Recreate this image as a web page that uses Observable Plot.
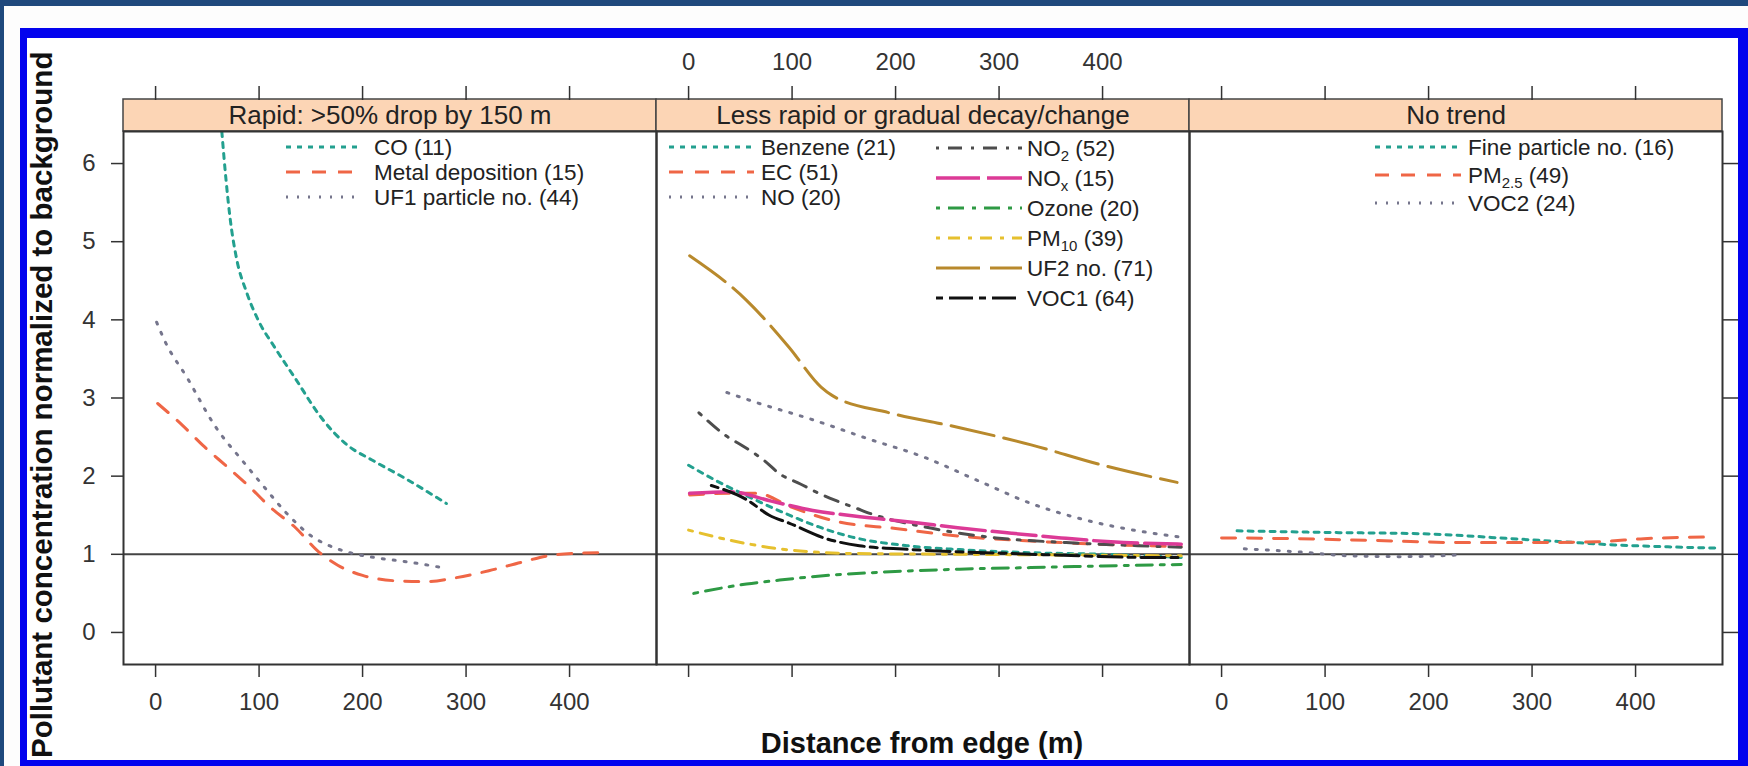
<!DOCTYPE html>
<html><head><meta charset="utf-8">
<script src="https://cdn.jsdelivr.net/npm/d3@7"></script>
<script src="https://cdn.jsdelivr.net/npm/@observablehq/plot@0.6"></script>
<style>
html,body{margin:0;padding:0;background:#1f497d;width:1748px;height:766px;overflow:hidden;}
#white{position:absolute;left:4px;top:6px;width:1744px;height:760px;background:#fdfdfd;}
#box{position:absolute;left:20px;top:28px;width:1728px;height:738px;box-sizing:border-box;border-style:solid;border-color:#0303ee;border-width:10px 10px 6px 7px;overflow:hidden;background:#fff;}
#box svg{position:absolute;left:-27px;top:-38px;max-width:none !important;width:1748px !important;height:766px !important;}
</style></head><body>
<div id="white"></div><div id="box"></div>
<script>
// ---- data ----
const panelNames = ["Rapid: >50% drop by 150 m", "Less rapid or gradual decay/change", "No trend"];
const xTicks = [0, 100, 200, 300, 400];
const yTicks = [0, 1, 2, 3, 4, 5, 6];

// distance (m), normalized concentration
const CO = [[64,6.41],[68,5.8],[72,5.3],[78,4.8],[88,4.35],[99,4.0],[115,3.65],[135,3.25],[160,2.75],[185,2.4],[210,2.2],[240,1.98],[281,1.65]];
const METAL = [[2,2.93],[26,2.65],[46,2.39],[70,2.11],[91,1.86],[111,1.6],[136,1.33],[156,1.05],[176,0.86],[200,0.73],[233,0.66],[261,0.65],[290,0.7],[322,0.79],[354,0.9],[379,0.98],[403,1.01],[435,1.02]];
const UF1 = [[1,3.97],[10,3.7],[30,3.27],[58,2.63],[85,2.18],[105,1.86],[127,1.52],[152,1.22],[168,1.11],[188,1.02],[216,0.95],[245,0.9],[281,0.82]];
const BENZENE = [[0,2.14],[27,1.94],[56,1.75],[94,1.52],[126,1.35],[158,1.22],[211,1.11],[262,1.06],[331,1.02],[400,1.0],[476,0.96]];
const EC = [[1,1.76],[40,1.78],[66,1.78],[100,1.6],[143,1.42],[200,1.33],[264,1.23],[345,1.16],[441,1.11],[476,1.1]];
const NO = [[37,3.07],[66,2.94],[118,2.73],[173,2.48],[228,2.24],[280,1.94],[331,1.65],[380,1.45],[434,1.3],[476,1.22]];
const NO2 = [[10,2.81],[38,2.5],[52,2.39],[73,2.2],[88,2.03],[108,1.9],[126,1.78],[142,1.69],[162,1.59],[176,1.52],[228,1.35],[297,1.21],[365,1.15],[434,1.11],[476,1.09]];
const NOX = [[1,1.78],[40,1.8],[80,1.68],[120,1.56],[160,1.49],[216,1.41],[260,1.34],[312,1.27],[360,1.21],[408,1.16],[476,1.13]];
const OZONE = [[5,0.5],[56,0.62],[88,0.67],[125,0.72],[184,0.77],[262,0.81],[331,0.83],[400,0.85],[476,0.87]];
const PM10 = [[0,1.31],[40,1.18],[88,1.07],[120,1.03],[159,1.01],[262,1.0],[380,0.99],[476,0.98]];
const UF2 = [[1,4.82],[56,4.25],[97,3.65],[128,3.14],[139,3.03],[194,2.81],[262,2.62],[331,2.4],[400,2.14],[472,1.92]];
const VOC1 = [[22,1.88],[56,1.7],[78,1.5],[97,1.4],[133,1.2],[165,1.11],[216,1.06],[312,1.01],[380,0.98],[441,0.96],[476,0.96]];
const FINE = [[15,1.3],[100,1.28],[200,1.26],[280,1.2],[330,1.16],[380,1.12],[420,1.1],[477,1.08]];
const PM25 = [[0,1.21],[70,1.2],[139,1.18],[235,1.15],[299,1.15],[363,1.16],[408,1.2],[466,1.22]];
const VOC2 = [[22,1.07],[75,1.03],[125,0.98],[175,0.97],[226,0.99]];

const seriesData = [CO, METAL, UF1, BENZENE, EC, NO, NO2, NOX, OZONE, PM10, UF2, VOC1, FINE, PM25, VOC2];
const seriesBase = ["CO","Metal deposition","UF1 particle no.","Benzene","EC","NO","NO","NO","Ozone","PM","UF2 no.","VOC1","Fine particle no.","PM","VOC2"];
const seriesSub = ["","","","","","","2","x","","10","","","","2.5",""];
const seriesCount = [11,15,44,21,51,20,52,15,20,39,71,64,16,49,24];
const seriesPanel = [0,0,0,1,1,1,1,1,1,1,1,1,2,2,2];

// ---- styles / layout ----
const FONT = "'Liberation Sans', Arial, Helvetica, sans-serif";
const styles = [
  {stroke: "#23a08f", dash: "5,6", width: 3},
  {stroke: "#ef6646", dash: "14,12", width: 3},
  {stroke: "#75758c", dash: "2,9", width: 3},
  {stroke: "#4d4d4d", dash: "3,9,14,9", width: 3},
  {stroke: "#dc3a96", dash: "44,7", width: 3.5},
  {stroke: "#2e9a44", dash: "4,8,16,8", width: 3},
  {stroke: "#e6c02e", dash: "4,8,12,8", width: 3},
  {stroke: "#b8892c", dash: "44,10", width: 3},
  {stroke: "#111111", dash: "7,6,24,6", width: 3}
];
const seriesStyle = [0,1,2,0,1,2,3,4,5,6,7,8,0,1,2];

const xMin = -31, xMax = 484, yMin = -0.41, yMax = 6.41;
const frameTop = 131, frameBottom = 664;
const stripUnits = 32 / ((frameBottom - frameTop) / (yMax - yMin));

const rows = seriesData.flatMap((pts, i) => pts.map(([d, v]) => ({series: i, panel: panelNames[seriesPanel[i]], d, v})));
const bottomLabels = [0, 2].flatMap(p => xTicks.map(t => ({panel: panelNames[p], t})));
const topLabels = [1].flatMap(p => xTicks.map(t => ({panel: panelNames[p], t})));

const lineMarks = seriesData.map((_, i) => {
  const st = styles[seriesStyle[i]];
  return Plot.line(rows.filter(r => r.series === i), {
    fx: "panel", x: "d", y: "v", curve: "monotone-x", clip: true,
    stroke: st.stroke, strokeWidth: st.width, strokeDasharray: st.dash
  });
});

const svg = Plot.plot({
  width: 1748, height: 766,
  marginLeft: 122, marginRight: 25, marginTop: frameTop, marginBottom: 766 - frameBottom,
  style: {fontFamily: FONT, fontSize: "24px", color: "#333", background: "transparent"},
  fx: {domain: panelNames, padding: 0, axis: null, label: null},
  x: {domain: [xMin, xMax], label: null},
  y: {domain: [yMin, yMax], label: null},
  marks: [
    Plot.rect(panelNames, {fx: d => d, x1: xMin, x2: xMax, y1: yMax, y2: yMax + stripUnits, fill: "#fcd5b5", stroke: "#444", strokeWidth: 1.5}),
    Plot.text(panelNames, {fx: d => d, text: d => d, frameAnchor: "top", lineAnchor: "middle", dy: -16, fontSize: 26, fill: "#222"}),
    Plot.ruleY([1], {stroke: "#444", strokeWidth: 2}),
    ...lineMarks,
    Plot.frame({stroke: "#333", strokeWidth: 2}),
    Plot.axisY({anchor: "left", ticks: yTicks, tickSize: 12, tickPadding: 16, tickFormat: d => String(d), label: null, strokeWidth: 1.5}),
    Plot.axisY({anchor: "right", ticks: yTicks, tickSize: 15, tickFormat: () => "", label: null, strokeWidth: 1.5}),
    Plot.axisX({anchor: "top", ticks: xTicks, tickSize: 14, tickFormat: () => "", label: null, dy: -32, strokeWidth: 1.5}),
    Plot.axisX({anchor: "bottom", ticks: xTicks, tickSize: 13, tickFormat: () => "", label: null, strokeWidth: 1.5}),
    Plot.text(bottomLabels, {fx: "panel", x: "t", text: d => String(d.t), frameAnchor: "bottom", lineAnchor: "middle", dy: 38, fill: "#333"}),
    Plot.text(topLabels, {fx: "panel", x: "t", text: d => String(d.t), frameAnchor: "top", lineAnchor: "middle", dy: -69, fill: "#333"})
  ]
});
document.getElementById("box").appendChild(svg);

// ---- legends (inside panels) ----
const legendCols = [
  {series: [0,1,2], x1: 286, x2: 362, tx: 374, y0: 147, dy: 25},
  {series: [3,4,5], x1: 669, x2: 754, tx: 761, y0: 147, dy: 25},
  {series: [6,7,8,9,10,11], x1: 936, x2: 1022, tx: 1027, y0: 148, dy: 30},
  {series: [12,13,14], x1: 1375, x2: 1461, tx: 1468, y0: 147, dy: 28}
];
const lg = d3.select(svg).append("g").attr("font-family", FONT).attr("font-size", 22.5).attr("fill", "#222").attr("text-anchor", "start");
legendCols.forEach(col => col.series.forEach((si, r) => {
  const y = col.y0 + r * col.dy;
  const st = styles[seriesStyle[si]];
  lg.append("line").attr("x1", col.x1).attr("x2", col.x2).attr("y1", y).attr("y2", y)
    .attr("stroke", st.stroke).attr("stroke-width", st.width).attr("stroke-dasharray", st.dash);
  const t = lg.append("text").attr("x", col.tx).attr("y", y).attr("dy", "0.36em").attr("text-anchor", "start");
  t.append("tspan").text(seriesBase[si]);
  if (seriesSub[si]) {
    t.append("tspan").attr("dy", 5).attr("font-size", 15).text(seriesSub[si]);
    t.append("tspan").attr("dy", -5).text(" (" + seriesCount[si] + ")");
  } else {
    t.append("tspan").text(" (" + seriesCount[si] + ")");
  }
}));

// ---- axis titles ----
const tg = d3.select(svg).append("g").attr("font-family", FONT).attr("font-weight", "bold").attr("fill", "#111");
tg.append("text").attr("transform", "translate(52,758) rotate(-90)").attr("font-size", 29.5).attr("text-anchor", "start")
  .text("Pollutant concentration normalized to background");
tg.append("text").attr("x", 922).attr("y", 753).attr("font-size", 29).attr("text-anchor", "middle")
  .text("Distance from edge (m)");
</script>
</body></html>
